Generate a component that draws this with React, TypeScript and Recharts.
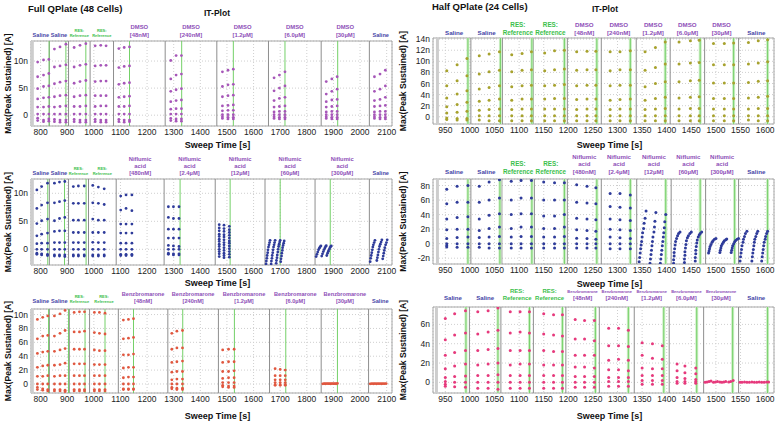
import React from "react";
import {
  ScatterChart,
  Scatter,
  XAxis,
  YAxis,
  CartesianGrid,
  ReferenceLine,
  ReferenceArea,
} from "recharts";

const FONT = "'Liberation Sans', Arial, Helvetica, sans-serif";

type Column = [number, number[]];
type Point = [number, number];
type Kind = "saline" | "res" | "drug";
type BlockLabel = { kind: Kind; lines: string[] };

// ---- tick labels ----
const LEFT_X_TICKS = [800, 900, 1000, 1100, 1200, 1300, 1400, 1500, 1600, 1700, 1800, 1900, 2000, 2100];
const RIGHT_X_TICKS = [950, 1000, 1050, 1100, 1150, 1200, 1250, 1300, 1350, 1400, 1450, 1500, 1550, 1600];
const TL_Y_TICKS = [0, 5, 10];
const ML_Y_TICKS = [0, 5, 10];
const BL_Y_TICKS = [0, 2, 4, 6, 8, 10];
const TR_Y_TICKS = [0, 2, 4, 6, 8, 10, 12, 14];
const MR_Y_TICKS = [-2, 0, 2, 4, 6, 8];
const BR_Y_TICKS = [0, 2, 4, 6];

// ---- block labels ----
const DMSO_LABELS: BlockLabel[] = [
  { kind: "saline", lines: ["Saline"] },
  { kind: "saline", lines: ["Saline"] },
  { kind: "res", lines: ["RES:", "Reference"] },
  { kind: "res", lines: ["RES:", "Reference"] },
  { kind: "drug", lines: ["DMSO", "[48nM]"] },
  { kind: "drug", lines: ["DMSO", "[240nM]"] },
  { kind: "drug", lines: ["DMSO", "[1.2µM]"] },
  { kind: "drug", lines: ["DMSO", "[6.0µM]"] },
  { kind: "drug", lines: ["DMSO", "[30µM]"] },
  { kind: "saline", lines: ["Saline"] },
];
const NIFLUMIC_LABELS: BlockLabel[] = [
  { kind: "saline", lines: ["Saline"] },
  { kind: "saline", lines: ["Saline"] },
  { kind: "res", lines: ["RES:", "Reference"] },
  { kind: "res", lines: ["RES:", "Reference"] },
  { kind: "drug", lines: ["Niflumic", "acid", "[480nM]"] },
  { kind: "drug", lines: ["Niflumic", "acid", "[2.4µM]"] },
  { kind: "drug", lines: ["Niflumic", "acid", "[12µM]"] },
  { kind: "drug", lines: ["Niflumic", "acid", "[60µM]"] },
  { kind: "drug", lines: ["Niflumic", "acid", "[300µM]"] },
  { kind: "saline", lines: ["Saline"] },
];
const BENZ_LABELS: BlockLabel[] = [
  { kind: "saline", lines: ["Saline"] },
  { kind: "saline", lines: ["Saline"] },
  { kind: "res", lines: ["RES:", "Reference"] },
  { kind: "res", lines: ["RES:", "Reference"] },
  { kind: "drug", lines: ["Benzbromarone", "[48nM]"] },
  { kind: "drug", lines: ["Benzbromarone", "[240nM]"] },
  { kind: "drug", lines: ["Benzbromarone", "[1.2µM]"] },
  { kind: "drug", lines: ["Benzbromarone", "[6.0µM]"] },
  { kind: "drug", lines: ["Benzbromarone", "[30µM]"] },
  { kind: "saline", lines: ["Saline"] },
];

// ---- Full QPlate, DMSO (top left) ----
const TL_SEPARATORS = [769, 833, 905, 986, 1074, 1268, 1462, 1656, 1854, 2035];
const TL_GREENS = [832, 895, 970, 1134, 1330, 1524, 1718, 1916];
const TL_COLUMNS: Column[] = [
  [789, [9.8, 7.1, 4.9, 3.0, 1.5, 0.2, -0.55, -1.0]],
  [811, [10.2, 7.4, 5.3, 3.2, 1.5, 0.2, -0.9, -1.2]],
  [831, [10.3, 7.7, 5.4, 3.3, 1.6, 0.2, -0.7, -1.1]],
  [852, [12.2, 8.9, 5.8, 3.4, 1.5, 0.2, -0.8, -1.2]],
  [873, [12.6, 9.1, 6.1, 3.6, 1.6, 0.2, -0.9, -1.3]],
  [895, [13.1, 9.3, 6.3, 3.7, 1.7, 0.2, -0.9, -1.3]],
  [926, [12.5, 8.9, 5.9, 3.4, 1.6, 0.2, -0.8, -1.2]],
  [948, [12.9, 9.2, 6.2, 3.6, 1.6, 0.2, -0.9, -1.3]],
  [970, [13.2, 9.4, 6.4, 3.7, 1.7, 0.2, -0.9, -1.3]],
  [1005, [12.8, 9.1, 6.2, 3.6, 1.6, 0.2, -0.8, -1.2]],
  [1026, [12.9, 9.2, 6.3, 3.6, 1.7, 0.2, -0.9, -1.3]],
  [1046, [12.8, 9.2, 6.3, 3.6, 1.7, 0.2, -0.9, -1.3]],
  [1094, [12.3, 8.8, 5.7, 3.3, 1.6, 0.2, -0.8, -1.2]],
  [1114, [12.5, 9.0, 5.9, 3.4, 1.6, 0.2, -0.9, -1.3]],
  [1134, [12.6, 9.1, 6.0, 3.5, 1.7, 0.2, -0.9, -1.2]],
  [1289, [10.1, 6.7, 4.4, 2.5, 1.1, 0.2, -0.6, -1.0]],
  [1309, [11.0, 7.4, 4.7, 2.7, 1.2, 0.2, -0.7, -1.1]],
  [1329, [11.0, 7.6, 4.9, 2.8, 1.2, 0.2, -0.7, -1.1]],
  [1483, [8.0, 5.3, 3.4, 1.7, 0.8, 0.1, -0.3, -0.6]],
  [1504, [8.3, 5.6, 3.6, 1.8, 0.9, 0.1, -0.4, -0.7]],
  [1524, [8.5, 5.7, 3.7, 1.9, 0.9, 0.1, -0.4, -0.7]],
  [1677, [6.9, 4.5, 2.7, 1.5, 0.6, 0.1, -0.3, -0.6]],
  [1697, [7.4, 5.0, 3.1, 1.6, 0.7, 0.1, -0.4, -0.7]],
  [1718, [8.0, 5.4, 3.3, 1.7, 0.7, 0.1, -0.4, -0.7]],
  [1873, [6.2, 3.9, 2.5, 1.5, 0.6, 0.1, -0.3, -0.6]],
  [1894, [6.7, 4.4, 2.8, 1.6, 0.7, 0.1, -0.4, -0.7]],
  [1914, [7.1, 4.8, 2.9, 1.7, 0.7, 0.1, -0.4, -0.7]],
  [2054, [7.1, 4.4, 2.7, 1.6, 0.6, 0.1, -0.3, -0.6]],
  [2075, [7.6, 4.8, 2.9, 1.7, 0.7, 0.1, -0.4, -0.7]],
  [2095, [8.3, 5.4, 3.3, 1.8, 0.7, 0.1, -0.4, -0.7]],
];
const TL_EXTRA: Point[] = [];

// ---- Full QPlate, Niflumic acid (middle left) ----
const ML_SEPARATORS = [769, 833, 905, 980, 1084, 1264, 1456, 1643, 1831, 2035];
const ML_GREENS = [827, 890, 971, 1324, 1512, 1700, 1888];
const ML_COLUMNS: Column[] = [
  [786, [10.6, 7.3, 4.6, 2.4, 1.0, 0, -0.7, -0.9]],
  [804, [11.2, 7.9, 5.1, 2.7, 1.1, 0, -0.8, -1.0]],
  [826, [11.8, 8.3, 5.4, 2.9, 1.1, 0, -0.9, -1.1]],
  [852, [11.8, 8.3, 5.1, 3.2, 1.2, 0, -1.0, -1.2]],
  [871, [12.0, 8.5, 5.5, 3.3, 1.2, 0, -1.0, -1.2]],
  [891, [12.1, 8.7, 5.7, 3.3, 1.2, 0, -1.0, -1.3]],
  [923, [11.2, 8.2, 5.2, 3.0, 1.2, 0, -1.0, -1.2]],
  [942, [11.3, 8.2, 5.2, 3.0, 1.2, 0, -1.0, -1.2]],
  [964, [11.3, 8.2, 5.2, 3.0, 1.2, 0, -1.0, -1.2]],
  [996, [11.4, 8.3, 5.4, 3.0, 1.25, 0, -1.0, -1.2]],
  [1017, [11.1, 8.2, 5.2, 3.0, 1.2, 0, -1.0, -1.2]],
  [1039, [10.8, 8.0, 5.2, 3.0, 1.2, 0, -1.0, -1.2]],
  [1101, [9.5, 7.0, 4.5, 2.9, 1.1, 0, -0.9, -1.1]],
  [1121, [9.7, 7.3, 4.5, 2.9, 1.1, 0, -0.9, -1.1]],
  [1143, [9.7, 6.9, 4.5, 2.9, 1.1, 0, -0.9, -1.1]],
  [1280, [7.6, 5.7, 3.6, 2.0, 0.7, 0, -0.7, -0.9]],
  [1299, [7.6, 5.5, 3.6, 2.0, 0.6, 0, -0.8, -1.0]],
  [1320, [7.6, 5.5, 3.6, 2.0, 0.5, 0, -0.8, -1.0]],
  [1471, [4.4, 3.8, 3.3, 2.7, 2.3, 1.8, 1.4, 0.9, 0.5, 0.0, -0.4, -0.8, -1.3]],
  [1489, [4.3, 3.7, 3.2, 2.6, 2.2, 1.7, 1.2, 0.8, 0.3, -0.2, -0.7, -1.1, -1.5]],
  [1509, [4.1, 3.5, 3.0, 2.5, 2.0, 1.5, 1.1, 0.6, 0.1, -0.4, -0.9, -1.4]],
];
const ML_EXTRA: Point[] = [
  [1647, -2.6], [1648, -2.1], [1650, -1.6], [1651, -1.1], [1653, -0.6], [1654, -0.1], [1656, 0.4], [1658, 0.8], [1660, 1.2], [1662, 1.6],
  [1666, -2.6], [1667, -2.1], [1669, -1.6], [1670, -1.1], [1672, -0.6], [1673, -0.1], [1675, 0.4], [1677, 0.8], [1679, 1.2], [1681, 1.6],
  [1685, -2.5], [1686, -2.0], [1688, -1.5], [1689, -1.0], [1691, -0.5], [1692, 0.0], [1694, 0.5], [1696, 0.9], [1698, 1.3], [1700, 1.6],
  [1702, -2.2], [1703, -1.7], [1705, -1.2], [1706, -0.7], [1708, -0.2], [1709, 0.3], [1711, 0.7], [1713, 1.1], [1715, 1.5],
  [1835, -1.3], [1838, -0.9], [1841, -0.5], [1844, -0.1], [1847, 0.2], [1850, 0.45], [1853, 0.6],
  [1856, -1.2], [1859, -0.8], [1862, -0.4], [1865, -0.05], [1868, 0.25], [1871, 0.5], [1873, 0.65],
  [1875, -1.1], [1878, -0.7], [1881, -0.35], [1884, 0], [1887, 0.3], [1890, 0.5], [1892, 0.6],
  [2038, -2.2], [2040, -1.6], [2042, -1.1], [2044, -0.6], [2046, -0.1], [2048, 0.4], [2050, 0.8], [2053, 1.2], [2056, 1.6],
  [2063, -2.0], [2065, -1.5], [2067, -1.0], [2069, -0.5], [2071, 0.0], [2073, 0.5], [2076, 0.9], [2079, 1.3], [2082, 1.7],
  [2085, -1.7], [2087, -1.2], [2089, -0.7], [2091, -0.2], [2093, 0.3], [2096, 0.8], [2099, 1.2], [2102, 1.7],
];

// ---- Full QPlate, Benzbromarone (bottom left) ----
const BL_SEPARATORS = [769, 833, 908, 984, 1092, 1278, 1468, 1660, 1854, 2032];
const BL_GREENS = [830, 905, 967, 1042, 1149, 1334, 1528, 1721, 1915];
const BL_COLUMNS: Column[] = [
  [788, [9.3, 6.5, 4.4, 2.4, 1.1, 0, -0.5, -0.8]],
  [808, [9.6, 6.9, 4.6, 2.6, 1.1, 0, -0.7, -0.9]],
  [827, [9.8, 7.0, 4.7, 2.7, 1.2, 0, -0.8, -1.0]],
  [852, [9.8, 6.9, 4.7, 2.7, 1.1, 0, -0.8, -1.0]],
  [873, [10.1, 7.3, 4.9, 2.8, 1.2, 0, -0.8, -1.0]],
  [892, [10.6, 7.7, 5.1, 3.0, 1.2, 0, -0.9, -1.1]],
  [926, [10.3, 7.5, 5.0, 2.9, 1.2, 0, -0.8, -1.0]],
  [946, [10.4, 7.5, 5.0, 2.9, 1.2, 0, -0.8, -1.0]],
  [965, [10.4, 7.6, 5.0, 2.9, 1.2, 0, -0.8, -1.0]],
  [1002, [10.3, 7.4, 4.9, 2.8, 1.2, 0, -0.8, -1.0]],
  [1021, [10.3, 7.3, 4.8, 2.8, 1.2, 0, -0.8, -1.0]],
  [1042, [10.2, 7.2, 4.8, 2.8, 1.2, 0, -0.8, -1.0]],
  [1111, [9.2, 6.5, 4.2, 2.3, 0.9, 0, -0.7, -0.8]],
  [1130, [9.3, 6.6, 4.2, 2.4, 1.0, 0, -0.7, -0.8]],
  [1149, [9.4, 6.7, 4.3, 2.4, 1.0, 0, -0.7, -0.8]],
  [1293, [7.3, 5.0, 3.1, 1.7, 0.6, 0, -0.5, -0.7]],
  [1312, [7.6, 5.2, 3.2, 1.8, 0.7, 0, -0.6, -0.8]],
  [1333, [7.7, 5.2, 3.3, 1.8, 0.7, 0, -0.6, -0.8]],
  [1484, [4.9, 3.1, 1.8, 0.8, 0.2, -0.2, -0.4]],
  [1506, [5.0, 3.2, 1.8, 0.9, 0.2, -0.3, -0.5]],
  [1527, [5.0, 3.2, 1.9, 0.9, 0.2, -0.3, -0.5]],
  [1681, [2.2, 1.2, 0.6, 0.2, -0.1, -0.2]],
  [1700, [2.1, 1.2, 0.6, 0.2, -0.1, -0.2]],
  [1719, [2.0, 1.2, 0.6, 0.2, -0.1, -0.2]],
];
const BL_EXTRA: Point[] = [
  [1860, 0.02], [1865, 0.05], [1870, 0.03], [1875, 0.06], [1880, 0.04], [1885, 0.05],
  [1890, 0.03], [1895, 0.06], [1900, 0.04], [1905, 0.05], [1910, 0.03], [1915, 0.08],
  [2038, 0.02], [2044, 0.04], [2050, 0.03], [2056, 0.05], [2062, 0.03], [2068, 0.04],
  [2074, 0.05], [2080, 0.03], [2086, 0.05], [2092, 0.04], [2098, 0.06],
];

// ---- Half QPlate, DMSO (top right) ----
const TR_SEPARATORS = [934, 1002, 1066, 1129, 1198, 1267, 1338, 1407, 1477, 1546];
const TR_GREENS = [996, 1062, 1126, 1192, 1258, 1326, 1397, 1468, 1536, 1605];
const TR_COLUMNS: Column[] = [
  [953, [8.3, 5.6, 3.4, 1.8, 0.7, -0.2, -0.5]],
  [974, [9.4, 6.5, 4.1, 2.2, 0.8, -0.3, -0.6]],
  [994, [10.5, 7.4, 4.7, 2.6, 1.0, -0.3, -0.6]],
  [1019, [11.0, 7.7, 5.0, 2.8, 1.2, 0.2, -0.6]],
  [1039, [11.3, 8.1, 5.3, 3.0, 1.3, 0.2, -0.7]],
  [1060, [11.7, 8.4, 5.6, 3.2, 1.4, 0.2, -0.7]],
  [1085, [11.2, 8.1, 5.4, 3.0, 1.3, 0.2, -0.7]],
  [1106, [11.4, 8.4, 5.6, 3.2, 1.4, 0.2, -0.7]],
  [1125, [11.7, 8.5, 5.7, 3.2, 1.4, 0.2, -0.7]],
  [1152, [11.5, 8.3, 5.6, 3.2, 1.4, 0.2, -0.7]],
  [1172, [11.9, 8.5, 5.7, 3.3, 1.4, 0.2, -0.7]],
  [1192, [12.0, 8.6, 5.8, 3.3, 1.4, 0.2, -0.7]],
  [1217, [11.7, 8.4, 5.6, 3.1, 1.3, 0.2, -0.7]],
  [1238, [11.8, 8.5, 5.7, 3.2, 1.4, 0.2, -0.7]],
  [1256, [11.8, 8.5, 5.7, 3.2, 1.4, 0.2, -0.7]],
  [1285, [11.7, 8.3, 5.6, 3.0, 1.3, 0.2, -0.7]],
  [1305, [11.7, 8.5, 5.7, 3.1, 1.4, 0.2, -0.7]],
  [1326, [11.9, 8.5, 5.7, 3.2, 1.4, 0.2, -0.7]],
  [1356, [11.7, 8.4, 5.4, 3.0, 1.3, 0.2, -0.7]],
  [1377, [12.5, 8.9, 6.0, 3.3, 1.4, 0.2, -0.7]],
  [1397, [13.5, 9.5, 6.3, 3.5, 1.5, 0.2, -0.7]],
  [1425, [13.5, 9.5, 6.3, 3.4, 1.4, 0.2, -0.7]],
  [1448, [13.7, 9.7, 6.5, 3.5, 1.5, 0.2, -0.7]],
  [1466, [13.8, 9.8, 6.6, 3.6, 1.5, 0.2, -0.7]],
  [1495, [13.2, 9.4, 6.1, 3.3, 1.4, 0.2, -0.7]],
  [1517, [13.2, 9.4, 6.1, 3.3, 1.4, 0.2, -0.7]],
  [1536, [13.3, 9.4, 6.1, 3.3, 1.4, 0.2, -0.7]],
  [1566, [13.4, 9.5, 6.2, 3.4, 1.4, 0.2, -0.6]],
  [1586, [13.7, 9.7, 6.4, 3.5, 1.5, 0.2, -0.7]],
  [1605, [13.9, 9.9, 6.5, 3.7, 1.5, 0.2, -0.7]],
];
const TR_EXTRA: Point[] = [];

// ---- Half QPlate, Niflumic acid (middle right) ----
const MR_SEPARATORS = [934, 1002, 1065, 1131, 1198, 1267, 1339, 1409, 1479, 1546];
const MR_GREENS = [996, 1061, 1126, 1192, 1258, 1326, 1398, 1468, 1538, 1605];
const MR_COLUMNS: Column[] = [
  [953, [7.5, 5.5, 3.4, 1.9, 0.7, 0, -0.3, -0.45]],
  [974, [7.9, 5.7, 3.6, 2.0, 0.85, 0, -0.5]],
  [996, [8.0, 5.7, 3.7, 2.0, 0.9, 0, -0.5]],
  [1019, [7.9, 5.7, 3.4, 1.8, 0.85, 0, -0.5]],
  [1039, [8.5, 6.0, 3.9, 2.1, 0.9, 0, -0.6]],
  [1060, [8.8, 6.3, 4.1, 2.3, 1.0, 0, -0.6]],
  [1084, [8.6, 6.0, 4.0, 2.1, 0.9, 0, -0.6]],
  [1104, [8.7, 6.3, 4.1, 2.3, 1.0, 0, -0.6]],
  [1125, [8.7, 6.3, 4.1, 2.3, 1.0, 0, -0.6]],
  [1150, [8.5, 6.0, 3.8, 2.1, 0.9, 0, -0.6]],
  [1172, [8.4, 6.0, 3.8, 2.1, 0.9, 0, -0.6]],
  [1192, [8.4, 6.0, 4.0, 2.3, 1.0, 0, -0.6]],
  [1217, [8.1, 5.7, 3.5, 1.9, 0.75, 0, -0.6]],
  [1238, [7.9, 5.6, 3.4, 1.8, 0.7, 0, -0.6]],
  [1256, [7.7, 5.5, 3.3, 1.7, 0.6, 0, -0.6]],
  [1285, [6.9, 5.1, 3.4, 2.0, 0.9, 0, -0.7]],
  [1305, [6.9, 5.0, 3.3, 1.9, 0.8, 0, -0.7]],
  [1326, [6.7, 4.9, 3.2, 1.8, 0.7, 0, -0.7]],
];
const MR_EXTRA: Point[] = [
  [1344, -2.5], [1345, -1.9], [1346, -1.3], [1347, -0.7], [1348, -0.2], [1349, 0.3], [1350, 0.9], [1351, 1.5], [1353, 2.1], [1354, 2.8], [1356, 3.5], [1358, 4.5],
  [1366, -2.7], [1367, -2.1], [1368, -1.5], [1369, -0.9], [1370, -0.3], [1371, 0.3], [1372, 0.9], [1374, 1.6], [1375, 2.3], [1376, 3.1], [1378, 4.3],
  [1387, -2.7], [1388, -2.1], [1389, -1.5], [1390, -0.9], [1391, -0.3], [1392, 0.3], [1393, 0.9], [1394, 1.5], [1395, 2.2], [1396, 3.0], [1398, 4.0],
  [1414, -2.7], [1414, -2.2], [1415, -1.7], [1415, -1.2], [1416, -0.7], [1417, -0.2], [1418, 0.3], [1420, 0.7], [1422, 1.1], [1424, 1.4], [1427, 1.6],
  [1436, -2.6], [1436, -2.1], [1437, -1.6], [1437, -1.1], [1438, -0.6], [1439, -0.1], [1440, 0.4], [1442, 0.8], [1444, 1.1], [1447, 1.4], [1450, 1.6],
  [1458, -2.4], [1458, -1.9], [1459, -1.4], [1459, -0.9], [1460, -0.4], [1461, 0.1], [1462, 0.5], [1464, 0.9], [1466, 1.2], [1468, 1.4], [1471, 1.6],
  [1485, -1.3], [1486, -1.0], [1487, -0.7], [1488, -0.4], [1490, -0.1], [1492, 0.2], [1494, 0.4], [1497, 0.6], [1500, 0.7],
  [1508, -1.2], [1509, -0.9], [1510, -0.6], [1511, -0.3], [1513, -0.05], [1515, 0.2], [1517, 0.4], [1520, 0.55], [1522, 0.65],
  [1531, -1.2], [1532, -0.9], [1533, -0.6], [1534, -0.3], [1536, 0], [1538, 0.25], [1540, 0.45], [1543, 0.6], [1546, 0.7],
  [1549, -2.4], [1550, -1.8], [1551, -1.3], [1552, -0.8], [1553, -0.3], [1555, 0.2], [1556, 0.6], [1558, 1.0], [1560, 1.4], [1563, 1.7],
  [1573, -2.4], [1574, -1.8], [1575, -1.3], [1576, -0.8], [1577, -0.3], [1578, 0.2], [1579, 0.6], [1581, 1.0], [1583, 1.4], [1585, 1.7],
  [1593, -2.4], [1594, -1.8], [1595, -1.3], [1596, -0.8], [1597, -0.3], [1598, 0.2], [1600, 0.6], [1601, 1.0], [1603, 1.4], [1605, 1.7],
];

// ---- Half QPlate, Benzbromarone (bottom right) ----
const BR_SEPARATORS = [932, 999, 1063, 1129, 1195, 1263, 1334, 1405, 1475, 1546];
const BR_GREENS = [992, 1057, 1121, 1188, 1255, 1322, 1394, 1461, 1534, 1605];
const BR_COLUMNS: Column[] = [
  [950, [6.6, 4.4, 2.8, 1.4, 0.5, 0.1, -0.2, -0.4]],
  [969, [7.1, 4.9, 3.1, 1.7, 0.6, 0, -0.45]],
  [991, [7.4, 5.1, 3.3, 1.9, 0.65, 0, -0.5]],
  [1016, [7.3, 5.0, 3.3, 1.8, 0.7, 0, -0.6]],
  [1037, [7.4, 5.2, 3.4, 1.9, 0.7, 0, -0.6]],
  [1057, [7.7, 5.4, 3.5, 2.0, 0.8, 0, -0.7]],
  [1082, [7.3, 5.1, 3.3, 1.8, 0.7, 0, -0.6]],
  [1102, [7.3, 5.2, 3.3, 1.9, 0.7, 0, -0.6]],
  [1121, [7.3, 5.1, 3.3, 1.9, 0.7, 0, -0.6]],
  [1150, [7.1, 5.0, 3.3, 1.8, 0.7, 0, -0.6]],
  [1170, [7.0, 4.9, 3.2, 1.8, 0.7, 0, -0.6]],
  [1188, [7.0, 4.8, 3.2, 1.8, 0.7, 0, -0.6]],
  [1214, [6.5, 4.5, 2.8, 1.6, 0.6, 0, -0.5]],
  [1233, [6.4, 4.5, 2.8, 1.6, 0.6, 0, -0.5]],
  [1253, [6.4, 4.3, 2.8, 1.5, 0.6, 0, -0.5]],
  [1282, [5.6, 3.8, 2.3, 1.3, 0.5, 0.1, -0.4]],
  [1302, [5.6, 3.8, 2.4, 1.3, 0.5, 0.1, -0.4]],
  [1322, [5.4, 3.7, 2.3, 1.2, 0.5, 0.1, -0.4]],
  [1350, [4.1, 2.8, 1.5, 0.7, 0.2, -0.2]],
  [1371, [4.0, 2.5, 1.4, 0.7, 0.2, -0.2]],
  [1391, [3.8, 2.4, 1.4, 0.7, 0.2, -0.2]],
  [1421, [1.9, 1.2, 0.5, 0.1, -0.1]],
  [1437, [1.7, 1.0, 0.4, 0.1, -0.1]],
  [1459, [1.5, 0.9, 0.3, 0.1, -0.1]],
];
const BR_EXTRA: Point[] = [
  [1478, 0.0], [1482, 0.05], [1486, 0.1], [1490, 0.15], [1495, 0.0], [1499, 0.05], [1503, 0.1],
  [1508, 0.05], [1512, 0.0], [1516, 0.05], [1520, 0.1], [1526, 0.05], [1530, 0.1], [1535, 0.2],
  [1549, 0.0], [1553, 0.02], [1558, 0.03], [1563, 0.0], [1568, 0.02], [1573, 0.04], [1578, 0.0],
  [1583, 0.02], [1588, 0.04], [1593, 0.0], [1598, 0.02], [1603, 0.03], [1607, 0.05],
];

const LABEL_COLORS: Record<Kind, string> = {
  saline: "#4646a6",
  res: "#3cc04c",
  drug: "#8e4fb8",
};

type Fonts = { saline: number; res: number; drugName: number; drug: number; gap: number; lead: number };

const fmtNano = (v: number) => (v === 0 ? "0" : `${v}n`);

function lineSize(b: BlockLabel, i: number, f: Fonts) {
  if (b.kind === "saline") return f.saline;
  if (b.kind === "res") return f.res;
  return i === b.lines.length - 1 ? f.drug : f.drugName;
}

function makeBlockLabel(b: BlockLabel, f: Fonts) {
  return (lp: any) => {
    const vb = lp.viewBox;
    if (!vb) return null;
    const cx = vb.x + vb.width / 2;
    // baselines, from the bottom line upwards
    const ys: number[] = [];
    let y = vb.y - f.gap;
    for (let i = b.lines.length - 1; i >= 0; i--) {
      ys[i] = y;
      y -= lineSize(b, i, f) * f.lead;
    }
    return (
      <g>
        {b.lines.map((l, i) => (
          <text
            key={i}
            x={cx}
            y={ys[i]}
            textAnchor="middle"
            fill={LABEL_COLORS[b.kind]}
            fontSize={lineSize(b, i, f)}
            fontWeight="bold"
            fontFamily={FONT}
          >
            {l}
          </text>
        ))}
      </g>
    );
  };
}

interface PanelProps {
  left: number;
  top: number;
  width: number;
  height: number;
  marginTop: number;
  marginRight: number;
  yWidth: number;
  xHeight: number;
  xLabelOffset: number;
  xDomain: [number, number];
  xTicks: number[];
  yDomain: [number, number];
  yTicks: number[];
  columns: Column[];
  extra: Point[];
  separators: number[];
  greens: number[];
  labels: BlockLabel[];
  fonts: Fonts;
  color: string;
  r: number;
  yLabelX: number;
  greenBand: boolean;
}

function Panel(p: PanelProps) {
  const data = [
    ...p.columns.flatMap(([x, ys]) => ys.map((y) => ({ x, y }))),
    ...p.extra.map(([x, y]) => ({ x, y })),
  ];
  const bounds = [...p.separators, p.xDomain[1]];
  const tickStyle = { fontSize: 8.5, fill: "#222", fontFamily: FONT };

  return (
    <div style={{ position: "absolute", left: p.left, top: p.top }}>
      <ScatterChart
        width={p.width}
        height={p.height}
        margin={{ top: p.marginTop, right: p.marginRight, left: 0, bottom: 0 }}
      >
        <CartesianGrid stroke="#cfcfcf" strokeDasharray="1 2" />
        <XAxis
          type="number"
          dataKey="x"
          domain={p.xDomain}
          ticks={p.xTicks}
          interval={0}
          allowDataOverflow
          axisLine={false}
          tickLine={false}
          tickSize={3}
          tickMargin={0}
          height={p.xHeight}
          tick={tickStyle}
          label={{
            value: "Sweep Time [s]",
            position: "insideBottom",
            offset: p.xLabelOffset,
            dx: 6,
            style: { fontSize: 9, fontWeight: "bold", fill: "#111", fontFamily: FONT },
          }}
        />
        <YAxis
          type="number"
          dataKey="y"
          domain={p.yDomain}
          ticks={p.yTicks}
          interval={0}
          allowDataOverflow
          axisLine={false}
          tickLine={false}
          tickSize={3}
          tickMargin={0}
          width={p.yWidth}
          tickFormatter={fmtNano}
          tick={tickStyle}
          label={{
            value: "Max(Peak Sustained) [A]",
            angle: -90,
            position: "insideLeft",
            offset: p.yLabelX,
            style: { textAnchor: "middle", fontSize: 8.6, fontWeight: "bold", fill: "#111", fontFamily: FONT },
          }}
        />
        {p.labels.map((b, i) => (
          <ReferenceArea
            key={`blk-${i}`}
            x1={bounds[i]}
            x2={bounds[i + 1]}
            fill="none"
            fillOpacity={0}
            stroke="none"
            label={{ content: makeBlockLabel(b, p.fonts) }}
          />
        ))}
        <ReferenceArea
          x1={p.xDomain[0]}
          x2={p.xDomain[1]}
          y1={p.yDomain[0]}
          y2={p.yDomain[1]}
          fill="none"
          fillOpacity={0}
          stroke="#a8a8a8"
        />
        {p.separators.map((x, i) => (
          <ReferenceLine
            key={`sep-${i}`}
            x={x}
            stroke={i === 0 ? "#cdcdcd" : "#8e8e8e"}
            strokeWidth={i === 0 ? 3 : 1}
          />
        ))}
        {p.greenBand &&
          p.greens.map((x, i) => (
            <ReferenceLine key={`gb-${i}`} x={x} stroke="#cdeec5" strokeWidth={3} />
          ))}
        {p.greens.map((x, i) => (
          <ReferenceLine key={`g-${i}`} x={x} stroke="#74d068" strokeWidth={1} />
        ))}
        <Scatter
          data={data}
          isAnimationActive={false}
          shape={(sp: any) => <circle cx={sp.cx} cy={sp.cy} r={p.r} fill={p.color} />}
        />
      </ScatterChart>
    </div>
  );
}

const LEFT_DOMAIN: [number, number] = [764, 2120];
const RIGHT_DOMAIN: [number, number] = [925, 1618];

export default function App() {
  return (
    <div
      style={{
        position: "absolute",
        left: 0,
        top: 0,
        width: 784,
        height: 421,
        background: "#fff",
        fontFamily: FONT,
        overflow: "hidden",
      }}
    >
      <Panel
        left={0} top={0} width={400} height={150} marginTop={41} marginRight={8} yWidth={31} xHeight={24} xLabelOffset={2}
        xDomain={LEFT_DOMAIN} xTicks={LEFT_X_TICKS} yDomain={[-2, 13.7]} yTicks={TL_Y_TICKS}
        columns={TL_COLUMNS} extra={TL_EXTRA} separators={TL_SEPARATORS} greens={TL_GREENS}
        labels={DMSO_LABELS} fonts={{ saline: 5.6, res: 4, drugName: 5.9, drug: 5.9, gap: 4.5, lead: 1.25 }}
        color="#a656b8" r={1.4} yLabelX={8} greenBand={false}
      />
      <Panel
        left={0} top={140} width={400} height={149} marginTop={39} marginRight={8} yWidth={31} xHeight={24} xLabelOffset={3}
        xDomain={LEFT_DOMAIN} xTicks={LEFT_X_TICKS} yDomain={[-2.8, 12.55]} yTicks={ML_Y_TICKS}
        columns={ML_COLUMNS} extra={ML_EXTRA} separators={ML_SEPARATORS} greens={ML_GREENS}
        labels={NIFLUMIC_LABELS} fonts={{ saline: 5.6, res: 4, drugName: 5.8, drug: 5.8, gap: 4, lead: 1.25 }}
        color="#2e3b9a" r={1.4} yLabelX={8} greenBand={false}
      />
      <Panel
        left={0} top={280} width={400} height={141} marginTop={29} marginRight={8} yWidth={31} xHeight={28} xLabelOffset={2}
        xDomain={LEFT_DOMAIN} xTicks={LEFT_X_TICKS} yDomain={[-1.3, 10.8]} yTicks={BL_Y_TICKS}
        columns={BL_COLUMNS} extra={BL_EXTRA} separators={BL_SEPARATORS} greens={BL_GREENS}
        labels={BENZ_LABELS} fonts={{ saline: 5.6, res: 4, drugName: 5.6, drug: 5.6, gap: 6, lead: 1.2 }}
        color="#e0573f" r={1.4} yLabelX={8} greenBand={false}
      />
      <Panel
        left={392} top={0} width={392} height={150} marginTop={38} marginRight={10} yWidth={41} xHeight={26} xLabelOffset={2}
        xDomain={RIGHT_DOMAIN} xTicks={RIGHT_X_TICKS} yDomain={[-1.3, 14.2]} yTicks={TR_Y_TICKS}
        columns={TR_COLUMNS} extra={TR_EXTRA} separators={TR_SEPARATORS} greens={TR_GREENS}
        labels={DMSO_LABELS} fonts={{ saline: 6.2, res: 6.3, drugName: 6.2, drug: 6.2, gap: 3, lead: 1.25 }}
        color="#a7a22e" r={1.5} yLabelX={11} greenBand={true}
      />
      <Panel
        left={392} top={140} width={392} height={150} marginTop={39} marginRight={10} yWidth={41} xHeight={26} xLabelOffset={3.5}
        xDomain={RIGHT_DOMAIN} xTicks={RIGHT_X_TICKS} yDomain={[-2.8, 8.9]} yTicks={MR_Y_TICKS}
        columns={MR_COLUMNS} extra={MR_EXTRA} separators={MR_SEPARATORS} greens={MR_GREENS}
        labels={NIFLUMIC_LABELS} fonts={{ saline: 6.2, res: 6.3, drugName: 6.1, drug: 6.1, gap: 5, lead: 1.25 }}
        color="#2e3b9a" r={1.5} yLabelX={11} greenBand={true}
      />
      <Panel
        left={392} top={280} width={392} height={141} marginTop={27} marginRight={10} yWidth={41} xHeight={28} xLabelOffset={2}
        xDomain={RIGHT_DOMAIN} xTicks={RIGHT_X_TICKS} yDomain={[-1.1, 7.8]} yTicks={BR_Y_TICKS}
        columns={BR_COLUMNS} extra={BR_EXTRA} separators={BR_SEPARATORS} greens={BR_GREENS}
        labels={BENZ_LABELS} fonts={{ saline: 6.1, res: 6.0, drugName: 4, drug: 6.0, gap: 7, lead: 1.1 }}
        color="#e6397c" r={1.5} yLabelX={11} greenBand={true}
      />

      <div style={{ position: "absolute", left: 28, top: 4, fontSize: 9.5, fontWeight: "bold", lineHeight: 1, color: "#111" }}>
        Full QPlate (48 Cells)
      </div>
      <div style={{ position: "absolute", left: 217, top: 9, transform: "translateX(-50%)", fontSize: 8.5, fontWeight: "bold", lineHeight: 1, color: "#111" }}>
        IT-Plot
      </div>
      <div style={{ position: "absolute", left: 432, top: 1.5, fontSize: 9.5, fontWeight: "bold", lineHeight: 1, color: "#111" }}>
        Half QPlate (24 Cells)
      </div>
      <div style={{ position: "absolute", left: 605, top: 5, transform: "translateX(-50%)", fontSize: 8.5, fontWeight: "bold", lineHeight: 1, color: "#111" }}>
        IT-Plot
      </div>
    </div>
  );
}
